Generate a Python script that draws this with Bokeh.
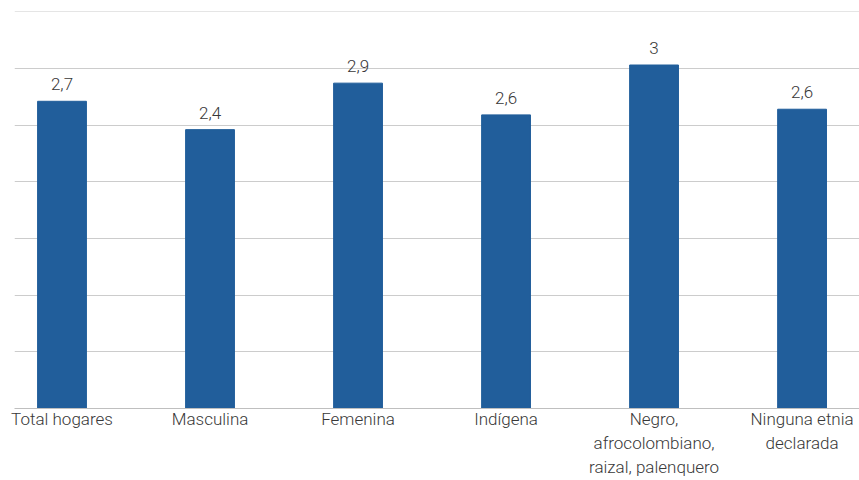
from bokeh.plotting import figure
from bokeh.models import ColumnDataSource, FixedTicker, Range1d, LabelSet
from bokeh.core.properties import value
from bokeh.embed import file_html
from bokeh.resources import INLINE

categories = ["Total hogares", "Masculina", "Femenina", "Indígena",
              "Negro,\nafrocolombiano,\nraizal, palenquero", "Ninguna etnia\ndeclarada"]
values = [2.71, 2.46, 2.87, 2.59, 3.03, 2.64]
value_labels = ["2,7", "2,4", "2,9", "2,6", "3", "2,6"]
y_ticks = [0, 0.5, 1.0, 1.5, 2.0, 2.5, 3.0, 3.5]

FONT = "Roboto Light"
TXT = "#383838"

xs = list(range(len(categories)))
src = ColumnDataSource(dict(x=xs, top=values, lab=value_labels))

p = figure(width=859, height=480, output_backend="svg", toolbar_location=None,
           x_range=Range1d(-0.321, 5.388), y_range=Range1d(0, 3.502),
           min_border_left=14, min_border_right=0, min_border_top=11, min_border_bottom=71)
p.outline_line_color = None
p.background_fill_color = "white"

p.vbar(x="x", top="top", width=0.33, source=src, color="#215e9b")

labels = LabelSet(x="x", y="top", text="lab", source=src, text_align="center",
                  text_baseline="alphabetic", y_offset=11, text_font=value(FONT),
                  text_font_size="17px", text_color=TXT)
p.add_layout(labels)

p.yaxis.visible = False
p.ygrid.ticker = FixedTicker(ticks=y_ticks)
p.ygrid.grid_line_color = "#cccccc"
p.ygrid.grid_line_width = 1
p.xgrid.visible = False

ax = p.xaxis[0]
ax.ticker = FixedTicker(ticks=xs)
ax.major_label_overrides = {i: c for i, c in enumerate(categories)}
ax.major_tick_line_color = None
ax.minor_tick_line_color = None
ax.major_tick_out = 0
ax.major_tick_in = 0
ax.axis_line_color = "#bfbfbf"
ax.major_label_standoff = 0
ax.major_label_text_font = FONT
ax.major_label_text_font_size = "17px"
ax.major_label_text_color = TXT
ax.major_label_text_line_height = 1.22

open("out.html", "w").write(file_html(p, INLINE))
